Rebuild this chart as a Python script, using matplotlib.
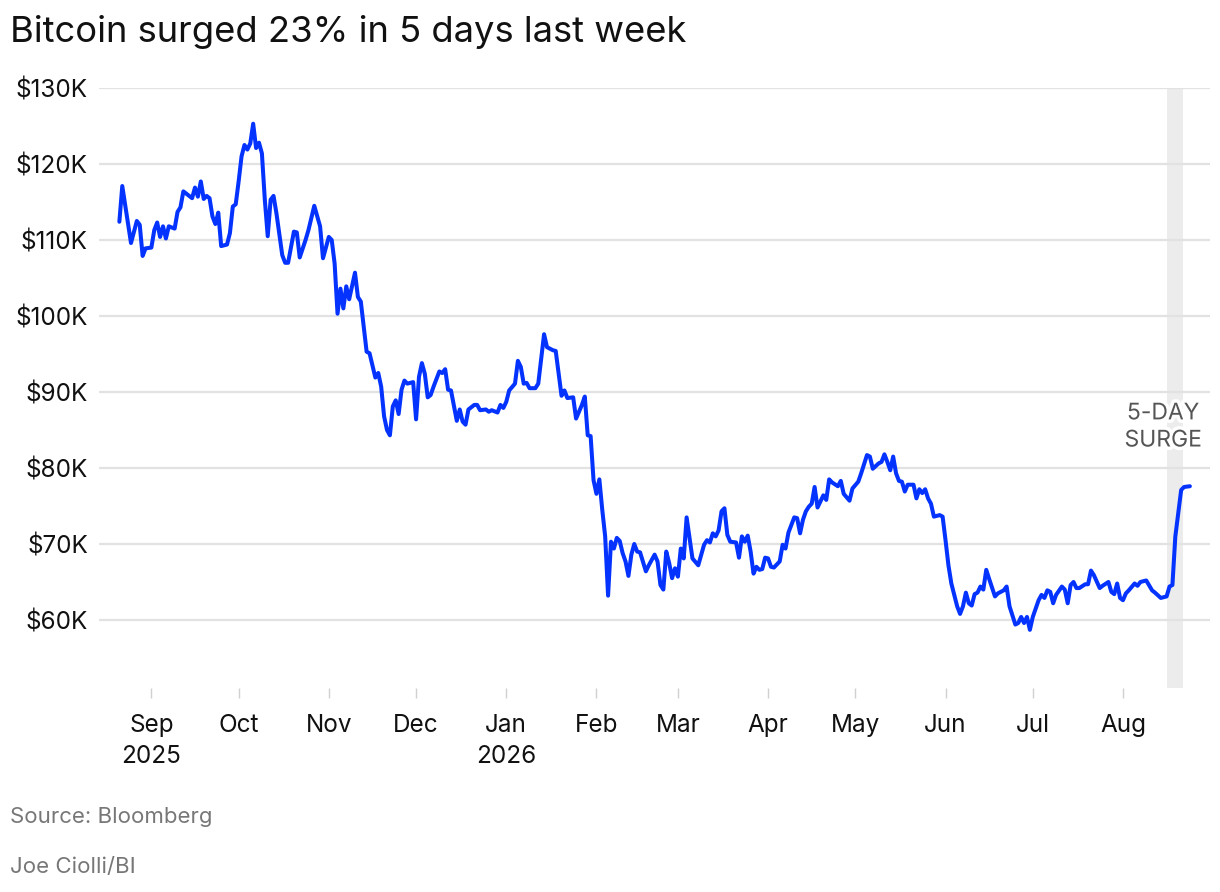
import matplotlib
matplotlib.use("Agg")
import matplotlib.pyplot as plt
import matplotlib.dates as mdates
import matplotlib.patheffects as pe
import pandas as pd

plt.rcParams['font.family'] = ['Inter', 'DejaVu Sans']

dates = [
    "2025-08-21", "2025-08-22", "2025-08-25", "2025-08-27", "2025-08-28", "2025-08-29", "2025-08-30",
    "2025-09-01", "2025-09-02", "2025-09-03", "2025-09-04", "2025-09-05", "2025-09-06", "2025-09-07",
    "2025-09-09", "2025-09-10", "2025-09-11", "2025-09-12", "2025-09-13", "2025-09-15", "2025-09-16",
    "2025-09-17", "2025-09-18", "2025-09-19", "2025-09-20", "2025-09-21", "2025-09-22", "2025-09-23",
    "2025-09-24", "2025-09-25", "2025-09-27", "2025-09-28", "2025-09-29", "2025-09-30",
    "2025-10-01", "2025-10-02", "2025-10-03", "2025-10-04", "2025-10-05", "2025-10-06", "2025-10-07",
    "2025-10-08", "2025-10-09", "2025-10-10", "2025-10-11", "2025-10-12", "2025-10-13", "2025-10-14",
    "2025-10-16", "2025-10-17", "2025-10-18", "2025-10-20", "2025-10-21", "2025-10-22", "2025-10-24",
    "2025-10-25", "2025-10-27", "2025-10-29", "2025-10-30",
    "2025-11-01", "2025-11-02", "2025-11-03", "2025-11-04", "2025-11-05", "2025-11-06", "2025-11-07",
    "2025-11-08", "2025-11-10", "2025-11-11", "2025-11-12", "2025-11-14", "2025-11-15", "2025-11-17",
    "2025-11-18", "2025-11-19", "2025-11-20", "2025-11-21", "2025-11-22", "2025-11-23", "2025-11-24",
    "2025-11-25", "2025-11-26", "2025-11-27", "2025-11-28", "2025-11-30",
    "2025-12-01", "2025-12-02", "2025-12-03", "2025-12-04", "2025-12-05", "2025-12-06", "2025-12-07",
    "2025-12-09", "2025-12-10", "2025-12-11", "2025-12-12", "2025-12-13", "2025-12-15", "2025-12-16",
    "2025-12-17", "2025-12-18", "2025-12-19", "2025-12-21", "2025-12-22", "2025-12-23", "2025-12-25",
    "2025-12-26", "2025-12-27", "2025-12-29", "2025-12-30", "2025-12-31",
    "2026-01-01", "2026-01-02", "2026-01-04", "2026-01-05", "2026-01-06", "2026-01-07", "2026-01-08",
    "2026-01-09", "2026-01-11", "2026-01-12", "2026-01-14", "2026-01-15", "2026-01-17", "2026-01-18",
    "2026-01-20", "2026-01-21", "2026-01-22", "2026-01-24", "2026-01-25", "2026-01-27", "2026-01-28",
    "2026-01-29", "2026-01-30", "2026-01-31",
    "2026-02-01", "2026-02-02", "2026-02-03", "2026-02-04", "2026-02-05", "2026-02-06", "2026-02-07",
    "2026-02-08", "2026-02-09", "2026-02-10", "2026-02-11", "2026-02-12", "2026-02-13", "2026-02-14",
    "2026-02-15", "2026-02-16", "2026-02-18", "2026-02-19", "2026-02-21", "2026-02-22", "2026-02-23",
    "2026-02-24", "2026-02-25", "2026-02-26", "2026-02-27", "2026-02-28",
    "2026-03-01", "2026-03-02", "2026-03-03", "2026-03-04", "2026-03-05", "2026-03-06", "2026-03-08",
    "2026-03-10", "2026-03-11", "2026-03-12", "2026-03-13", "2026-03-14", "2026-03-15", "2026-03-16",
    "2026-03-17", "2026-03-18", "2026-03-19", "2026-03-21", "2026-03-22", "2026-03-23", "2026-03-24",
    "2026-03-25", "2026-03-26", "2026-03-27", "2026-03-28", "2026-03-29", "2026-03-30", "2026-03-31",
    "2026-04-01", "2026-04-02", "2026-04-03", "2026-04-05", "2026-04-06", "2026-04-07", "2026-04-08",
    "2026-04-10", "2026-04-11", "2026-04-12", "2026-04-13", "2026-04-14", "2026-04-15", "2026-04-16",
    "2026-04-17", "2026-04-18", "2026-04-20", "2026-04-21", "2026-04-22", "2026-04-23", "2026-04-25",
    "2026-04-26", "2026-04-27", "2026-04-29", "2026-04-30",
    "2026-05-02", "2026-05-03", "2026-05-05", "2026-05-06", "2026-05-07", "2026-05-09", "2026-05-10",
    "2026-05-11", "2026-05-12", "2026-05-13", "2026-05-14", "2026-05-15", "2026-05-16", "2026-05-17",
    "2026-05-18", "2026-05-19", "2026-05-21", "2026-05-22", "2026-05-23", "2026-05-24", "2026-05-25",
    "2026-05-26", "2026-05-27", "2026-05-28", "2026-05-29", "2026-05-30", "2026-05-31",
    "2026-06-01", "2026-06-02", "2026-06-03", "2026-06-04", "2026-06-05", "2026-06-06", "2026-06-07",
    "2026-06-08", "2026-06-09", "2026-06-10", "2026-06-11", "2026-06-12", "2026-06-13", "2026-06-14",
    "2026-06-15", "2026-06-16", "2026-06-18", "2026-06-19", "2026-06-21", "2026-06-22", "2026-06-23",
    "2026-06-25", "2026-06-26", "2026-06-27", "2026-06-28", "2026-06-29", "2026-06-30",
    "2026-07-01", "2026-07-03", "2026-07-04", "2026-07-05", "2026-07-06", "2026-07-07", "2026-07-08",
    "2026-07-09", "2026-07-11", "2026-07-12", "2026-07-13", "2026-07-14", "2026-07-15", "2026-07-16",
    "2026-07-17", "2026-07-19", "2026-07-20", "2026-07-21", "2026-07-22", "2026-07-24", "2026-07-25",
    "2026-07-27", "2026-07-28", "2026-07-29", "2026-07-30", "2026-07-31",
    "2026-08-01", "2026-08-02", "2026-08-03", "2026-08-05", "2026-08-06", "2026-08-07", "2026-08-09",
    "2026-08-11", "2026-08-12", "2026-08-14", "2026-08-16", "2026-08-17", "2026-08-18", "2026-08-19",
    "2026-08-21", "2026-08-22", "2026-08-24",
]

prices_k = [
    112.4, 117.1, 109.6, 112.5, 112.0, 107.9, 108.9,
    109.0, 111.3, 112.3, 110.4, 111.8, 110.2, 111.8,
    111.5, 113.7, 114.3, 116.4, 116.1, 115.5, 116.9,
    115.7, 117.7, 115.4, 115.8, 115.5, 113.1, 112.1,
    113.6, 109.2, 109.4, 110.9, 114.4, 114.7,
    117.7, 121.0, 122.5, 121.9, 122.7, 125.3, 122.1,
    122.8, 121.4, 115.3, 110.5, 115.3, 115.8, 113.5,
    108.0, 107.0, 107.0, 111.1, 111.0, 107.7, 110.0,
    111.3, 114.5, 111.8, 107.6,
    110.4, 110.0, 106.9, 100.3, 103.6, 101.0, 103.9,
    102.2, 105.7, 102.5, 101.9, 95.3, 95.1, 91.9,
    92.5, 90.7, 86.8, 85.0, 84.3, 88.1, 88.9,
    87.1, 90.3, 91.5, 91.1, 91.3,
    86.4, 92.0, 93.8, 92.4, 89.3, 89.6, 90.7,
    92.7, 92.5, 93.0, 90.3, 90.2, 86.2, 87.7,
    86.1, 85.7, 87.7, 88.3, 88.3, 87.6, 87.7,
    87.4, 87.6, 87.3, 88.3, 87.9,
    88.7, 90.2, 91.1, 94.1, 93.3, 91.1, 91.2,
    90.5, 90.5, 91.1, 97.6, 95.9, 95.5, 95.4,
    89.5, 90.2, 89.2, 89.3, 86.5, 88.3, 89.4,
    84.3, 84.2, 78.4,
    76.6, 78.5, 74.5, 71.0, 63.2, 70.3, 69.4,
    70.8, 70.4, 68.8, 67.7, 65.8, 68.6, 70.0,
    69.0, 68.9, 66.4, 67.2, 68.6, 67.7, 64.6,
    64.0, 69.0, 67.5, 65.5, 66.8,
    65.7, 69.4, 68.1, 73.5, 70.8, 68.1, 67.2,
    69.9, 70.5, 70.2, 71.4, 71.0, 71.8, 74.3,
    74.7, 71.2, 70.3, 70.2, 68.2, 71.0, 70.3,
    71.1, 69.0, 66.1, 67.0, 66.6, 66.7, 68.2,
    68.1, 67.0, 66.9, 67.7, 69.9, 69.4, 71.5,
    73.5, 73.4, 71.4, 73.2, 74.3, 74.9, 75.3,
    77.5, 74.8, 76.4, 75.8, 78.5, 78.1, 77.6,
    78.3, 76.6, 75.7, 77.3,
    78.2, 79.3, 81.7, 81.5, 79.9, 80.6, 80.8,
    81.8, 80.8, 79.7, 81.5, 79.3, 78.3, 78.2,
    76.9, 77.8, 77.8, 76.0, 77.2, 76.7, 77.2,
    76.0, 75.3, 73.6, 73.7, 73.8, 73.6,
    70.5, 67.2, 64.8, 63.3, 61.8, 60.8, 61.8,
    63.6, 62.2, 61.9, 63.4, 63.6, 64.4, 64.0,
    66.6, 65.4, 63.1, 63.5, 63.9, 64.4, 61.8,
    59.4, 59.6, 60.4, 59.6, 60.4, 58.7,
    60.4, 62.6, 63.3, 62.9, 63.9, 63.7, 62.2,
    63.3, 64.4, 64.0, 62.2, 64.6, 65.0, 64.2,
    64.2, 64.7, 64.7, 66.5, 65.9, 64.2, 64.5,
    65.0, 63.7, 63.4, 64.8, 62.9,
    62.6, 63.5, 63.9, 64.8, 64.5, 65.0, 65.2,
    63.9, 63.6, 62.9, 63.1, 64.4, 64.6, 71.0,
    77.1, 77.5, 77.6,
]

y_ticks_k = [60, 70, 80, 90, 100, 110, 120, 130]
y_tick_labels = ["$60K", "$70K", "$80K", "$90K", "$100K", "$110K", "$120K", "$130K"]
x_tick_dates = ["2025-09-01", "2025-10-01", "2025-11-01", "2025-12-01", "2026-01-01", "2026-02-01",
                "2026-03-01", "2026-04-01", "2026-05-01", "2026-06-01", "2026-07-01", "2026-08-01"]
x_tick_labels = ["Sep\n2025", "Oct", "Nov", "Dec", "Jan\n2026", "Feb",
                 "Mar", "Apr", "May", "Jun", "Jul", "Aug"]
surge_start = "2026-08-16 02:00"
surge_end = "2026-08-21 19:00"
surge_label = "5-DAY\nSURGE"
title = "Bitcoin surged 23% in 5 days last week"
source = "Source: Bloomberg"
credit = "Joe Ciolli/BI"

x = pd.to_datetime(dates)

fig = plt.figure(figsize=(12.2, 8.92), dpi=100)
ax = fig.add_axes([99/1220, 1 - 688/892, (1210 - 99)/1220, (688 - 88)/892])

ax.axvspan(pd.Timestamp(surge_start), pd.Timestamp(surge_end), color="#ececec", lw=0, zorder=0)
for t in y_ticks_k:
    ax.axhline(t, color="#e2e2e2", lw=1.6, zorder=1)
ax.plot(x, prices_k, color="#0433ff", lw=2.9, solid_joinstyle="round", solid_capstyle="round", zorder=3)

ax.set_ylim(51.05, 130)
ax.set_xlim(pd.Timestamp("2025-08-14"), pd.Timestamp("2026-08-30 22:00"))
ax.set_yticks(y_ticks_k)
ax.set_yticklabels(y_tick_labels)
ax.set_xticks(pd.to_datetime(x_tick_dates))
ax.set_xticklabels(x_tick_labels, linespacing=1.45)
for s in ax.spines.values():
    s.set_visible(False)
ax.tick_params(axis="y", length=0, pad=8, labelsize=17.5, labelcolor="#111111")
ax.tick_params(axis="x", length=7.5, width=1, color="#d0d0d0", pad=11, labelsize=17.5, labelcolor="#111111")
for lbl in ax.get_xticklabels():
    lbl.set_verticalalignment("top")

ax.text(pd.Timestamp("2026-08-14 19:00"), 85.4, surge_label, ha="center", va="center",
        fontsize=16.5, color="#555555", linespacing=1.3, zorder=4,
        path_effects=[pe.withStroke(linewidth=5, foreground="white")])

fig.text(10/1220, 1 - 42/892, title, fontsize=26.2, color="#111111", ha="left", va="baseline")
fig.text(10/1220, 1 - 817/892, source, fontsize=16, color="#777777", ha="left", va="center")
fig.text(10/1220, 1 - 867/892, credit, fontsize=16, color="#777777", ha="left", va="center")

fig.savefig("out.png", dpi=100, facecolor="white")
